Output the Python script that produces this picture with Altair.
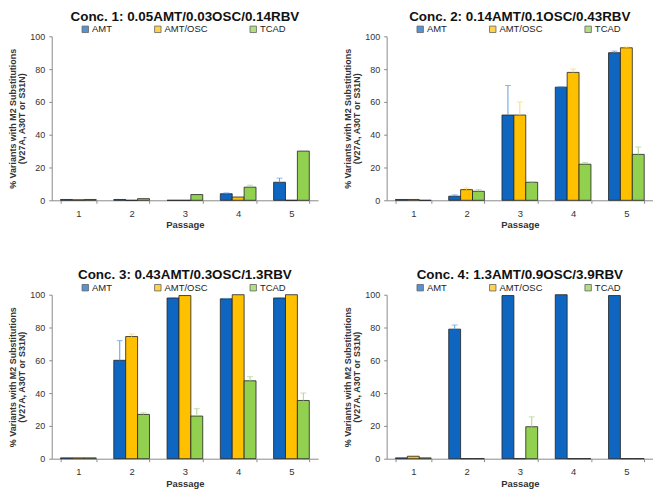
import altair as alt
import pandas as pd

passages = ["1", "2", "3", "4", "5"]
series = ["AMT", "AMT/OSC", "TCAD"]
bar_colors = ["#0F66C0", "#FFC000", "#92D050"]
err_colors = ["#5E9FE0", "#FFD966", "#A9D48A"]

titles = [
    "Conc. 1: 0.05AMT/0.03OSC/0.14RBV",
    "Conc. 2: 0.14AMT/0.1OSC/0.43RBV",
    "Conc. 3: 0.43AMT/0.3OSC/1.3RBV",
    "Conc. 4: 1.3AMT/0.9OSC/3.9RBV",
]

# values per concentration: [AMT, AMT/OSC, TCAD]
c1_vals = [[0.5, 0.5, 0, 4, 11], [0.3, 0, 0, 2, 0], [0.5, 1, 3.5, 8, 30]]
c1_errs = [[0, 0, 0, 0.5, 2.5], [0, 0, 0, 0, 0], [0, 0, 0, 1.2, 0]]

c2_vals = [[0.5, 2.5, 52, 69, 90], [0.5, 6.5, 52, 78, 93], [0, 5.5, 11, 22, 28]]
c2_errs = [[0, 0.8, 18, 0.3, 1], [0, 1, 8, 2, 0.5], [0, 1, 0.3, 1, 4.5]]

c3_vals = [[0.5, 60, 98, 97.5, 98], [0.5, 74.5, 99.5, 100, 100], [0.5, 27, 26, 47.5, 35.5]]
c3_errs = [[0, 12, 0.3, 0.3, 0.3], [0, 1.5, 0, 0, 0], [0, 1, 4.5, 2.5, 4.5]]

c4_vals = [[0.5, 79, 99.5, 100, 99.5], [1.5, 0, 0, 0, 0], [0.5, 0, 19.5, 0, 0]]
c4_errs = [[0, 2.5, 0, 0, 0], [0, 0, 0, 0, 0], [0, 0, 6, 0, 0]]

y_ticks = [0, 20, 40, 60, 80, 100]
FONT = "Liberation Sans"


def make_df(vals, errs):
    rows = []
    for si, s in enumerate(series):
        for pi, p in enumerate(passages):
            rows.append({
                "Passage": p,
                "Series": s,
                "Value": vals[si][pi],
                "Err": errs[si][pi],
                "Top": vals[si][pi] + errs[si][pi],
                "ErrColor": err_colors[si],
            })
    return pd.DataFrame(rows)


def panel(title, vals, errs):
    df = make_df(vals, errs)
    base = alt.Chart(df)
    x = alt.X(
        "Passage:N",
        sort=passages,
        scale=alt.Scale(paddingInner=0.33, paddingOuter=0.165),
        axis=alt.Axis(
            title="Passage", labelAngle=0, tickBand="extent",
            labelFontSize=9.5, titleFontSize=9.5, titleFontWeight="bold",
            labelColor="#333333", titleColor="#333333",
            domainColor="#8a8a8a", tickColor="#8a8a8a", tickSize=3,
            labelPadding=5, titlePadding=2, labelFont=FONT, titleFont=FONT,
        ),
    )
    xo = alt.XOffset("Series:N", sort=series)
    y_axis = alt.Axis(
        title=["% Variants with M2 Substitutions", "(V27A, A30T  or S31N)"],
        values=y_ticks, grid=False, labelOverlap=False,
        labelFontSize=9, titleFontSize=9, titleFontWeight="bold",
        labelColor="#333333", titleColor="#333333",
        domainColor="#8a8a8a", tickColor="#8a8a8a", tickSize=3,
        labelPadding=4, titlePadding=3, labelFont=FONT, titleFont=FONT,
        titleLineHeight=9,
    )
    y_scale = alt.Scale(domain=[0, 100], nice=False)
    bars = base.mark_bar(stroke="#222222", strokeWidth=0.8).encode(
        x=x,
        xOffset=xo,
        y=alt.Y("Value:Q", scale=y_scale, axis=y_axis),
        color=alt.Color(
            "Series:N",
            scale=alt.Scale(domain=series, range=bar_colors),
            legend=alt.Legend(
                title=None, orient="none", direction="horizontal",
                legendX=29, legendY=-12,
                symbolType="square", symbolSize=42,
                symbolStrokeColor="#222222", symbolStrokeWidth=0.8,
                labelFontSize=9.5, labelFont=FONT, labelColor="#222222",
                labelOffset=2, columnPadding=40,
            ),
        ),
    )
    err_base = base.transform_filter("datum.Err > 0")
    rules = err_base.mark_rule(strokeWidth=1).encode(
        x=x, xOffset=xo,
        y=alt.Y("Value:Q", scale=y_scale, axis=y_axis),
        y2="Top:Q",
        color=alt.Color("ErrColor:N", scale=None),
    )
    caps = err_base.mark_tick(thickness=1, size=6).encode(
        x=x, xOffset=xo,
        y=alt.Y("Top:Q", scale=y_scale, axis=y_axis),
        color=alt.Color("ErrColor:N", scale=None),
    )
    return alt.layer(bars, rules, caps).properties(
        width=268, height=165,
        title=alt.Title(title, fontSize=13.5, fontWeight="bold", font=FONT,
                        color="#111111", anchor="middle", offset=1),
    )


p1 = panel(titles[0], c1_vals, c1_errs)
p2 = panel(titles[1], c2_vals, c2_errs)
p3 = panel(titles[2], c3_vals, c3_errs)
p4 = panel(titles[3], c4_vals, c4_errs)

chart = alt.vconcat(
    alt.hconcat(p1, p2, spacing=25).resolve_scale(color="independent"),
    alt.hconcat(p3, p4, spacing=25).resolve_scale(color="independent"),
    spacing=39,
).resolve_scale(color="independent").properties(padding=0).configure_view(stroke=None)

chart.save("out.html", embed_options={"renderer": "svg", "actions": False})
